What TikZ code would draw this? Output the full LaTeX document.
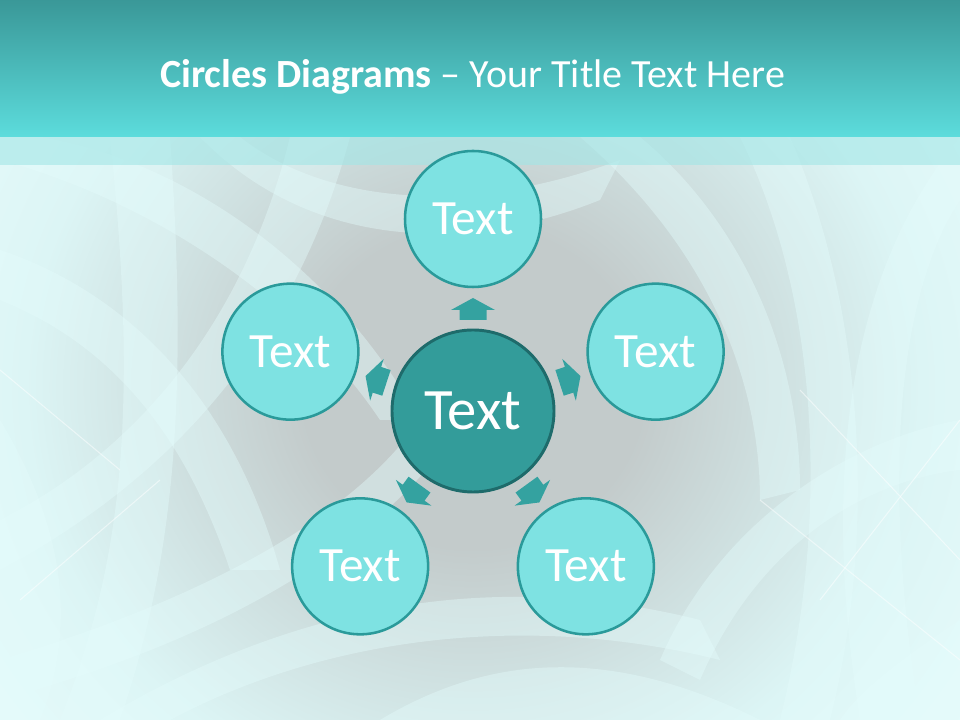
\documentclass[tikz,border=0pt]{standalone}
\usepackage{fontspec}
\setmainfont{Carlito}
\usetikzlibrary{shadings,calc}
\definecolor{barTop}{HTML}{3A9898}
\definecolor{barBot}{HTML}{5CDCDC}
\definecolor{bgIn}{HTML}{C3CBCB}
\definecolor{bgMid}{HTML}{CEDFDF}
\definecolor{bgOut}{HTML}{DCF5F5}
\definecolor{bgEdge}{HTML}{E8FCFC}
\definecolor{ribCol}{HTML}{E4FCFC}
\definecolor{stripCol}{HTML}{A2E6E6}
\definecolor{outFill}{HTML}{7EE2E2}
\definecolor{outLine}{HTML}{2A9A9A}
\definecolor{cenFill}{HTML}{339C9A}
\definecolor{cenLine}{HTML}{1E6B6B}
\definecolor{arrowCol}{HTML}{34A2A0}
\pgfdeclareradialshading{bgshade}{\pgfpoint{0bp}{0bp}}{color(0bp)=(bgIn); color(8bp)=(bgIn); color(14bp)=(bgMid); color(21bp)=(bgOut); color(30bp)=(bgEdge); color(50bp)=(bgEdge)}
\tikzset{
  outcircle/.style={circle,draw=outLine,fill=outFill,line width=1.9pt,minimum size=102pt,inner sep=0pt,text=white,font=\fontsize{37}{42}\selectfont},
  cencircle/.style={circle,draw=cenLine,fill=cenFill,line width=2.2pt,minimum size=121.5pt,inner sep=0pt,text=white,font=\fontsize{44}{50}\selectfont},
  ribbon/.style={fill=ribCol,opacity=0.42},
  glint/.style={draw=white,opacity=0.5,line width=0.8pt},
  pointer/.style={fill=arrowCol}
}
\begin{document}
\begin{tikzpicture}[x=0.75pt,y=0.75pt]
\useasboundingbox (0,0) rectangle (960,720);
% background
\shade[shading=bgshade] (-60,-170) rectangle (1006,836);
\begin{scope}
\clip (0,0) rectangle (960,583);
\fill[ribbon] (0,560) .. controls (150,520) and (300,420) .. (380,300) -- (420,300) .. controls (330,460) and (180,560) .. (40,583) -- (0,583) -- cycle;
\fill[ribbon] (0,420) .. controls (100,380) and (180,300) .. (230,150) -- (280,150) .. controls (230,330) and (120,430) .. (0,470) -- cycle;
\fill[ribbon] (0,200) .. controls (120,260) and (240,380) .. (290,583) -- (350,583) .. controls (290,360) and (150,230) .. (0,150) -- cycle;
\fill[ribbon] (60,0) .. controls (120,150) and (140,300) .. (110,583) -- (170,583) .. controls (190,300) and (170,150) .. (120,0) -- cycle;
\fill[ribbon] (0,60) .. controls (200,120) and (350,200) .. (420,300) -- (450,280) .. controls (370,170) and (220,80) .. (0,20) -- cycle;
\fill[ribbon] (100,0) .. controls (300,120) and (500,150) .. (700,100) -- (720,60) .. controls (520,110) and (320,80) .. (170,0) -- cycle;
\fill[ribbon] (380,0) .. controls (480,60) and (600,80) .. (760,0) -- cycle;
\fill[ribbon] (960,583) .. controls (850,450) and (820,250) .. (860,0) -- (920,0) .. controls (880,250) and (900,430) .. (960,520) -- cycle;
\fill[ribbon] (740,583) .. controls (820,420) and (830,200) .. (780,0) -- (830,0) .. controls (880,200) and (860,420) .. (790,583) -- cycle;
\fill[ribbon] (960,300) .. controls (850,280) and (720,200) .. (660,60) -- (700,40) .. controls (760,180) and (870,240) .. (960,250) -- cycle;
\fill[ribbon] (580,583) .. controls (700,480) and (760,350) .. (760,220) -- (800,230) .. controls (800,370) and (740,500) .. (640,583) -- cycle;
\fill[ribbon] (200,583) .. controls (300,480) and (450,460) .. (600,520) -- (620,560) .. controls (460,500) and (320,520) .. (240,583) -- cycle;
\fill[ribbon] (0,300) .. controls (60,200) and (80,100) .. (40,0) -- (0,0) -- cycle;
\fill[ribbon] (960,100) .. controls (900,60) and (860,30) .. (840,0) -- (960,0) -- cycle;
\draw[glint] (760,220) -- (960,60);
\draw[glint] (800,330) -- (960,160);
\draw[glint] (820,120) -- (960,300);
\draw[glint] (0,350) -- (120,250);
\draw[glint] (20,120) -- (160,240);
\end{scope}
% title bar
\shade[top color=barTop,bottom color=barBot] (0,583) rectangle (960,720);
\fill[stripCol,opacity=0.6] (0,555) rectangle (960,583);
\node[anchor=base west,text=white,inner sep=0pt,font=\fontsize{30}{36}\selectfont] (title) at (160,632) {\textbf{Circles Diagrams} – Your Title Text Here};
% circles
\coordinate (c) at (473,309);
\node[cencircle] (center) at (c) {Text};
\node[outcircle] (top) at ($(c)+(90:192)$) {Text};
\node[outcircle] (left) at ($(c)+(162:192)$) {Text};
\node[outcircle] (right) at ($(c)+(18:192)$) {Text};
\node[outcircle] (bl) at ($(c)+(234:192)$) {Text};
\node[outcircle] (br) at ($(c)+(306:192)$) {Text};
% pointers
\foreach \a in {90,162,18,234,306}{
  \begin{scope}[shift={(c)},rotate=\a]
  \fill[pointer] (91,-13.5) -- (101,-13.5) -- (101,-22) -- (113,0) -- (101,22) -- (101,13.5) -- (91,13.5) -- cycle;
  \end{scope}
}
\end{tikzpicture}
\end{document}
